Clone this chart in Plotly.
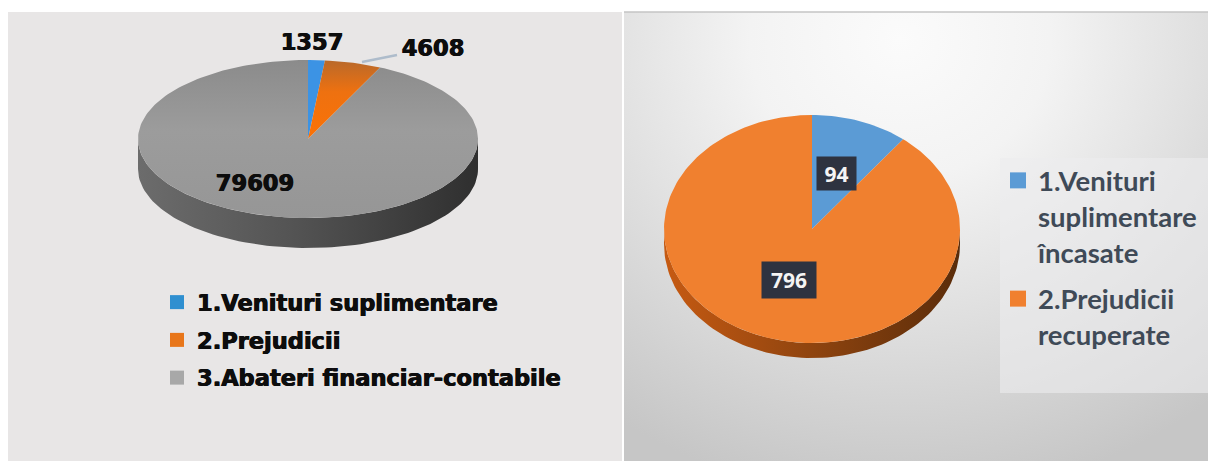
import math
import plotly.graph_objects as go

# Data: financial results by category
left_categories = ["1.Venituri suplimentare", "2.Prejudicii", "3.Abateri financiar-contabile"]
left_values = [1357, 4608, 79609]
right_categories = ["1.Venituri<br>suplimentare<br>încasate", "2.Prejudicii<br>recuperate"]
right_values = [94, 796]

W, H = 1208, 461
INK = "#0d0d0d"
LEGEND_INK = "#3f4a57"
HEAVY = "DejaVu Sans"
THICKEN = "0.5px 0 0 #0d0d0d, -0.5px 0 0 #0d0d0d"


def rect_trace(x0, y0, x1, y1, **style):
    return go.Scatter(x=[x0, x1, x1, x0, x0], y=[y0, y0, y1, y1, y0], mode="lines",
                      line=dict(width=0), fill="toself", hoverinfo="skip",
                      showlegend=False, **style)


def rim(cx, cy, rx, ry, a0, a1, steps=90):
    """Points along a tilted pie's rim; angles run clockwise from twelve o'clock."""
    pts = [a0 + (a1 - a0) * i / steps for i in range(steps + 1)]
    return ([cx + rx * math.sin(a) for a in pts], [cy - ry * math.cos(a) for a in pts])


def wedge_traces(values, cx, cy, rx, ry, styles):
    total = sum(values)
    start = 0.0
    traces = []
    for value, style in zip(values, styles):
        end = start + 2 * math.pi * value / total
        xs, ys = rim(cx, cy, rx, ry, start, end, steps=max(12, int(240 * value / total)))
        traces.append(go.Scatter(x=[cx] + xs + [cx], y=[cy] + ys + [cy], mode="lines",
                                 line=dict(width=0), fill="toself", hoverinfo="skip",
                                 showlegend=False, **style))
        start = end
    return traces


def side_trace(cx, cy, rx, ry, depth, stops):
    xs, ys = rim(cx, cy, rx, ry, math.pi / 2, 3 * math.pi / 2)
    xb, yb = rim(cx, cy + depth, rx, ry, 3 * math.pi / 2, math.pi / 2)
    return go.Scatter(x=xs + xb + xs[:1], y=ys + yb + ys[:1], mode="lines",
                      line=dict(width=0), fill="toself", hoverinfo="skip", showlegend=False,
                      fillgradient=dict(type="horizontal", colorscale=stops))


def swatch(name, color, size, legend):
    return go.Scatter(x=[None], y=[None], mode="markers", name=name, legend=legend,
                      legendgroup=name, hoverinfo="skip",
                      marker=dict(symbol="square", size=size, color=color))


def value_text(x, y, value):
    return go.Scatter(x=[x], y=[y], mode="text", text=[str(value)], hoverinfo="skip",
                      showlegend=False, textposition="middle center",
                      textfont=dict(family=HEAVY, size=22.5, color=INK, weight="bold", shadow=THICKEN))


fig = go.Figure()

# Panel backgrounds: the right one's glow sits behind the left panel and page margins
fig.add_trace(rect_trace(400, -420, 1400, 500, fillgradient=dict(
    type="radial",
    colorscale=[[0, "#fbfbfb"], [0.3, "#f3f3f3"], [0.6, "#e0e0e0"], [1, "#c6c6c6"]])))
fig.add_trace(rect_trace(0, 0, 624, H, fillcolor="#ffffff"))
fig.add_trace(rect_trace(8, 12, 622, H, fillcolor="#e8e6e6"))
fig.add_trace(rect_trace(0, 0, W, 12, fillcolor="#ffffff"))
fig.add_trace(go.Scatter(x=[624, W], y=[12, 12], mode="lines", hoverinfo="skip", showlegend=False,
                         line=dict(color="#c4c4c4", width=1.5)))
fig.add_trace(rect_trace(1000, 158, W, 393, fillcolor="rgba(236,237,238,0.6)"))

# Left pie with its extruded edge
L = dict(cx=308, cy=139, rx=170, ry=79)
fig.add_trace(side_trace(L["cx"], L["cy"], L["rx"], L["ry"], 30,
                         [[0, "#6c6c6c"], [0.45, "#545454"], [1, "#2f2f2f"]]))
left_styles = [
    dict(fillcolor="#3c93e4"),
    dict(fillgradient=dict(type="vertical", colorscale=[[0, "#fb7206"], [0.6, "#ee7110"], [1, "#b9692a"]])),
    dict(fillgradient=dict(type="vertical", colorscale=[[0, "#969696"], [0.55, "#9c9c9c"], [1, "#8b8b8b"]])),
]
fig.add_traces(wedge_traces(left_values, L["cx"], L["cy"], L["rx"], L["ry"], left_styles))
fig.add_trace(go.Scatter(x=[362, 397], y=[62, 55], mode="lines", hoverinfo="skip", showlegend=False,
                         line=dict(color="#aebccb", width=2.5)))
fig.add_trace(value_text(312, 44, left_values[0]))
fig.add_trace(value_text(433, 50, left_values[1]))
fig.add_trace(value_text(255, 185, left_values[2]))

# Right pie
R = dict(cx=812, cy=229, rx=148, ry=114)
fig.add_trace(side_trace(R["cx"], R["cy"], R["rx"], R["ry"], 15,
                         [[0, "#c65a12"], [0.5, "#8f440f"], [1, "#5a2c0a"]]))
right_styles = [dict(fillcolor="#5b9bd5"), dict(fillcolor="#f0802f")]
fig.add_traces(wedge_traces(right_values, R["cx"], R["cy"], R["rx"], R["ry"], right_styles))

# Legend entries
for name, color in zip(left_categories, ["#2f8fd0", "#e8761a", "#a8a8a8"]):
    fig.add_trace(swatch(name, color, 14, "legend"))
for name, color in zip(right_categories, ["#5b9bd5", "#f0802f"]):
    fig.add_trace(swatch(name, color, 16, "legend2"))

# Boxed value labels on the right pie
for value, x, y, bw, bh in [(right_values[0], 836.5, 173.5, 39, 33),
                            (right_values[1], 789, 280, 54, 36)]:
    fig.add_annotation(x=x, y=y, xref="x", yref="y", text=f"<b>{value}</b>", showarrow=False,
                       bgcolor="#2e3340", borderpad=0, width=bw, height=bh,
                       font=dict(family="Open Sans", size=21, color="#f4f4f4"))

fig.update_layout(
    width=W, height=H, autosize=False,
    margin=dict(l=0, r=0, t=0, b=0),
    paper_bgcolor="#ffffff", plot_bgcolor="#ffffff",
    xaxis=dict(range=[0, W], visible=False, fixedrange=True),
    yaxis=dict(range=[H, 0], visible=False, fixedrange=True),
    legend=dict(x=157 / W, y=1 - 281 / H, xanchor="left", yanchor="top",
                bgcolor="rgba(0,0,0,0)", itemsizing="trace", itemwidth=30, tracegroupgap=5.5,
                font=dict(family=HEAVY, size=22.5, color=INK, weight="bold", shadow=THICKEN)),
    legend2=dict(x=998 / W, y=1 - 156 / H, xanchor="left", yanchor="top", valign="top",
                 bgcolor="rgba(0,0,0,0)", itemsizing="trace", itemwidth=30, tracegroupgap=8,
                 font=dict(family="Lato", size=27.5, color=LEGEND_INK, weight="bold")),
)

fig.write_html("out.html", config={"displayModeBar": False})
